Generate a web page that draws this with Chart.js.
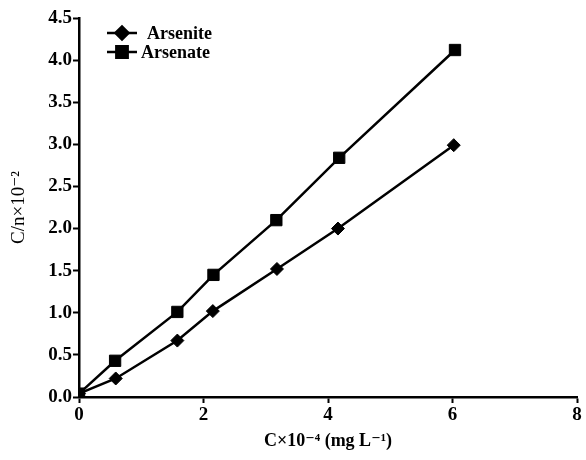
<!DOCTYPE html>
<html>
<head>
<meta charset="utf-8">
<script src="https://cdn.jsdelivr.net/npm/chart.js@4/dist/chart.umd.min.js"></script>
<style>
  html, body { margin: 0; padding: 0; background: #fff; }
  #wrap { width: 586px; height: 460px; }
</style>
</head>
<body>
<div id="wrap"><canvas id="c" width="586" height="460"></canvas></div>
<script>
// Data
const arseniteX = [0, 0.59, 1.58, 2.15, 3.18, 4.16, 6.02];
const arseniteY = [0.04, 0.22, 0.67, 1.02, 1.52, 2.00, 2.99];
const arsenateX = [0, 0.58, 1.58, 2.16, 3.17, 4.18, 6.04];
const arsenateY = [0.04, 0.43, 1.01, 1.45, 2.10, 2.84, 4.12];
const seriesNames = ['Arsenite', 'Arsenate'];
const xTickValues = [0, 2, 4, 6, 8];
const yTickValues = [0, 0.5, 1, 1.5, 2, 2.5, 3, 3.5, 4, 4.5];
const xTitle = 'C×10⁻⁴ (mg L⁻¹)';
const yTitle = 'C/n×10⁻²';

const serif = "'Liberation Serif', 'DejaVu Serif', serif";

function pts(xs, ys) { return xs.map((x, i) => ({ x: x, y: ys[i] })); }

const legendPlugin = {
  id: 'customLegend',
  afterDatasetsDraw(chart) {
    const ctx = chart.ctx;
    const a = chart.chartArea;
    const items = [
      { ds: 0, y: a.top + 15, textX: a.left + 68 },
      { ds: 1, y: a.top + 34, textX: a.left + 62 }
    ];
    ctx.save();
    items.forEach(it => {
      const ds = chart.data.datasets[it.ds];
      const x0 = a.left + 28, x1 = a.left + 58;
      ctx.strokeStyle = '#000';
      ctx.lineWidth = 2.5;
      ctx.beginPath();
      ctx.moveTo(x0, it.y);
      ctx.lineTo(x1, it.y);
      ctx.stroke();
      Chart.helpers.drawPoint(ctx, {
        pointStyle: ds.pointStyle,
        radius: ds.pointRadius,
        borderWidth: 1
      }, (x0 + x1) / 2, it.y);
      ctx.fillStyle = '#000';
      ctx.font = "bold 18px " + serif;
      ctx.textBaseline = 'middle';
      ctx.textAlign = 'left';
      ctx.fillText(ds.label, it.textX, it.y + 1);
    });
    ctx.restore();
  }
};

new Chart(document.getElementById('c'), {
  type: 'scatter',
  data: {
    datasets: [
      {
        label: seriesNames[0],
        data: pts(arseniteX, arseniteY),
        showLine: true,
        borderColor: '#000',
        backgroundColor: '#000',
        borderWidth: 2.5,
        pointStyle: 'rectRot',
        pointRadius: 6.5,
        pointBorderWidth: 1,
        pointBackgroundColor: '#000',
        pointBorderColor: '#000'
      },
      {
        label: seriesNames[1],
        data: pts(arsenateX, arsenateY),
        showLine: true,
        borderColor: '#000',
        backgroundColor: '#000',
        borderWidth: 2.5,
        pointStyle: 'rect',
        pointRadius: 8,
        pointBorderWidth: 1,
        pointBackgroundColor: '#000',
        pointBorderColor: '#000'
      }
    ]
  },
  options: {
    responsive: false,
    animation: false,
    devicePixelRatio: 1,
    layout: { padding: { top: 18, right: 7, left: 0, bottom: 0 } },
    plugins: {
      legend: { display: false },
      tooltip: { enabled: false }
    },
    scales: {
      x: {
        type: 'linear',
        min: 0, max: 8,
        afterBuildTicks(scale) { scale.ticks = xTickValues.map(v => ({ value: v })); },
        afterFit(scale) { scale.height = 63; },
        border: { display: true, color: '#000', width: 2.5 },
        grid: { display: true, drawOnChartArea: false, drawTicks: true, tickLength: 6, tickWidth: 2, color: '#000' },
        ticks: {
          color: '#000',
          font: { family: serif, size: 19, weight: 'bold' },
          padding: 1,
          maxRotation: 0,
          callback: v => String(v)
        },
        title: {
          display: true,
          text: xTitle,
          color: '#000',
          font: { family: serif, size: 18, weight: 'bold' },
          padding: { top: 6, bottom: 8 }
        }
      },
      y: {
        type: 'linear',
        min: 0, max: 4.5,
        afterBuildTicks(scale) { scale.ticks = yTickValues.map(v => ({ value: v })); },
        afterFit(scale) { scale.width = 79; },
        border: { display: true, color: '#000', width: 2.5 },
        grid: { display: true, drawOnChartArea: false, drawTicks: true, tickLength: 6, tickWidth: 2, color: '#000' },
        ticks: {
          color: '#000',
          font: { family: serif, size: 19, weight: 'bold' },
          padding: 1,
          callback: v => Number(v).toFixed(1)
        },
        title: {
          display: true,
          text: yTitle,
          color: '#000',
          font: { family: serif, size: 19, weight: 'normal' },
          padding: { top: 8, bottom: 6 }
        }
      }
    }
  },
  plugins: [legendPlugin]
});
</script>
</body>
</html>
